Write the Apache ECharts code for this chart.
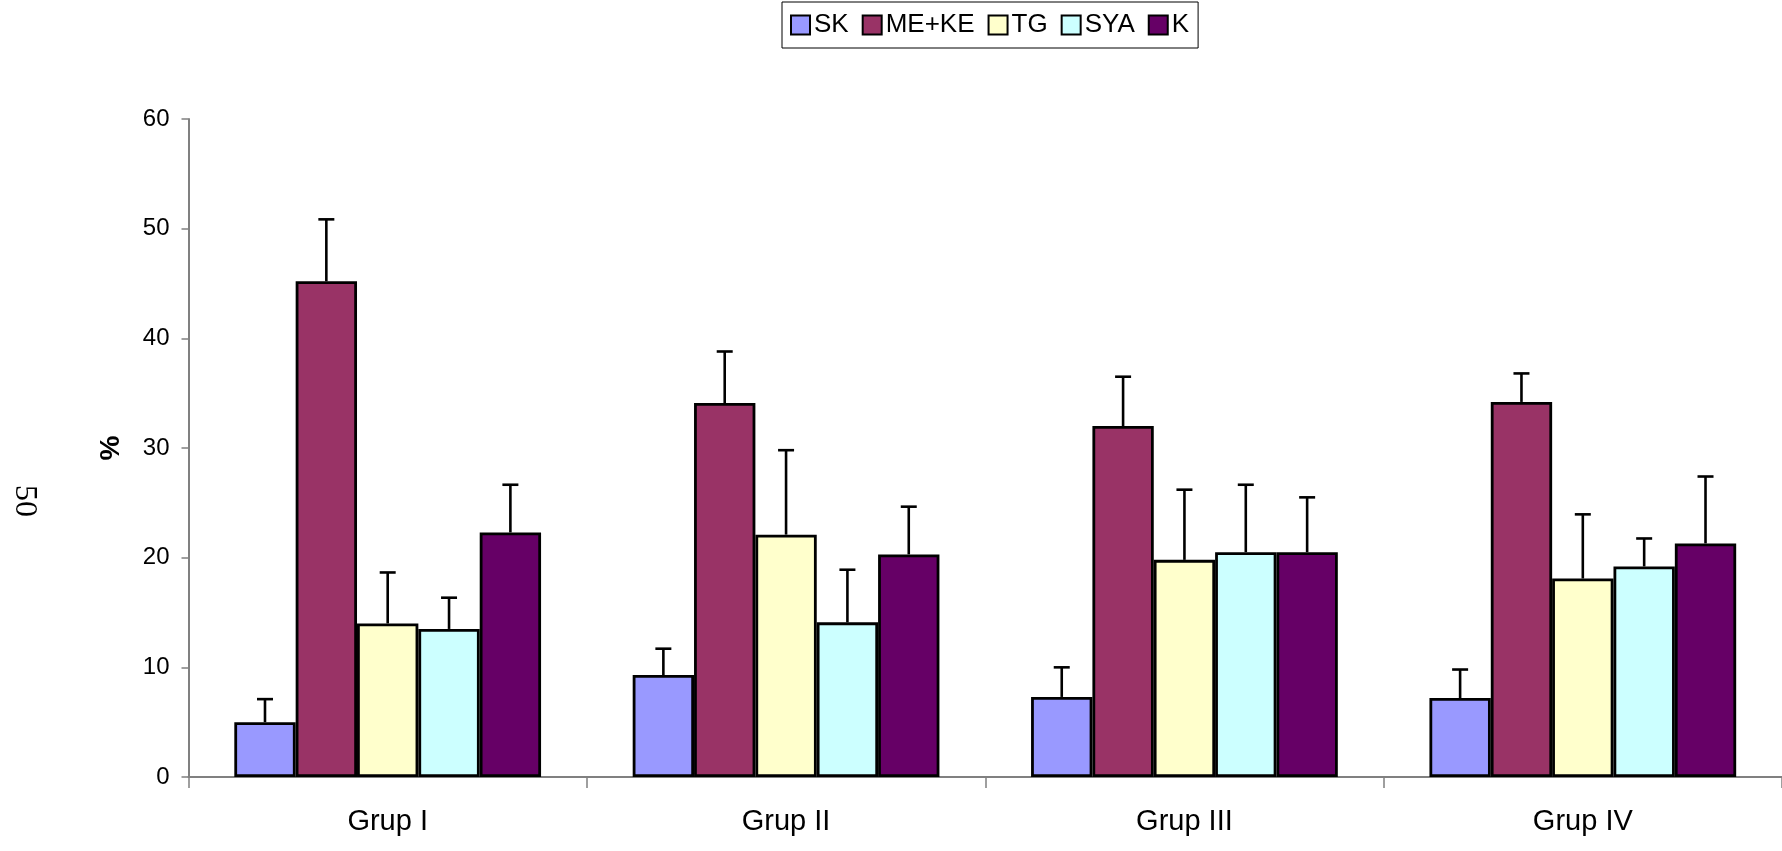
<!DOCTYPE html>
<html>
<head>
<meta charset="utf-8">
<script src="https://cdn.jsdelivr.net/npm/echarts@6/dist/echarts.min.js"></script>
<style>
  html, body { margin: 0; padding: 0; background: #fff; }
  #chart { width: 1782px; height: 851px; }
</style>
</head>
<body>
<div id="chart"></div>
<script>
// 组别
const categories = ['Grup I', 'Grup II', 'Grup III', 'Grup IV']
const seriesNames = ['SK', 'ME+KE', 'TG', 'SYA', 'K']
const colors = ['#9999FF', '#993366', '#FFFFCC', '#CCFFFF', '#660066']

// mean % per group
const skValues = [5.0, 9.3, 7.3, 7.2]
const mekeValues = [45.2, 34.1, 32.0, 34.2]
const tgValues = [14.0, 22.1, 19.8, 18.1]
const syaValues = [13.5, 14.1, 20.5, 19.2]
const kValues = [22.3, 20.3, 20.5, 21.3]

// upper error (SD)
const skErr = [2.1, 2.4, 2.7, 2.6]
const mekeErr = [5.65, 4.7, 4.5, 2.6]
const tgErr = [4.65, 7.7, 6.4, 5.85]
const syaErr = [2.85, 4.8, 6.15, 2.55]
const kErr = [4.35, 4.35, 5.0, 6.1]

const yTicks = [0, 10, 20, 30, 40, 50, 60]

const allValues = [skValues, mekeValues, tgValues, syaValues, kValues]
const allErrors = [skErr, mekeErr, tgErr, syaErr, kErr]

const chart = echarts.init(document.getElementById('chart'))
const font = "'Liberation Sans', Arial, sans-serif"
const gapRatio = 0.23

const barSeries = seriesNames.map((name, i) => ({
  name: name,
  type: 'bar',
  barGap: '0%',
  barCategoryGap: '23%',
  data: allValues[i],
  itemStyle: {
    color: colors[i],
    borderColor: '#000',
    borderWidth: 2.8
  },
  z: 2
}))

const errorSeries = seriesNames.map((name, i) => ({
  type: 'custom',
  name: name + '_err',
  z: 3,
  silent: true,
  encode: { x: 0, y: 1 },
  data: allValues[i].map((v, c) => [c, v, allErrors[i][c]]),
  renderItem: function (params, api) {
    const c = api.value(0)
    const v = api.value(1)
    const e = api.value(2)
    const bottom = api.coord([c, v])
    const top = api.coord([c, v + e])
    const band = api.size([1, 0])[0]
    const bw = band * (1 - gapRatio) / seriesNames.length
    const x = bottom[0] + (i - (seriesNames.length - 1) / 2) * bw
    const half = 8
    const style = { stroke: '#000', lineWidth: 2.6 }
    return {
      type: 'group',
      children: [
        { type: 'line', shape: { x1: x, y1: bottom[1], x2: x, y2: top[1] }, style: style },
        { type: 'line', shape: { x1: x - half, y1: top[1], x2: x + half, y2: top[1] }, style: style }
      ]
    }
  }
}))

const option = {
  backgroundColor: '#ffffff',
  animation: false,
  legend: {
    data: seriesNames,
    left: 782,
    top: 2,
    orient: 'horizontal',
    padding: [10, 9, 10, 8],
    itemGap: 13,
    itemWidth: 19,
    itemHeight: 19,
    borderColor: '#000',
    borderWidth: 1,
    icon: 'rect',
    itemStyle: { borderColor: '#000', borderWidth: 2 },
    textStyle: { fontFamily: font, fontSize: 26, color: '#000', padding: [0, 0, 0, -1] }
  },
  grid: {
    left: 188.5,
    right: 0,
    top: 119,
    bottom: 74,
    containLabel: false
  },
  xAxis: {
    type: 'category',
    data: categories,
    axisLine: { lineStyle: { color: '#808080', width: 2 } },
    axisTick: { show: true, length: 11, interval: 0, lineStyle: { color: '#808080', width: 1.5 } },
    axisLabel: { fontFamily: font, fontSize: 29, color: '#000', margin: 30 }
  },
  yAxis: {
    type: 'value',
    min: yTicks[0],
    max: yTicks[yTicks.length - 1],
    interval: 10,
    name: '%',
    nameLocation: 'middle',
    nameRotate: 90,
    nameGap: 63,
    nameTextStyle: { fontFamily: font, fontSize: 28, fontWeight: 'bold', color: '#000' },
    axisLine: { show: true, lineStyle: { color: '#808080', width: 2 } },
    axisTick: { show: true, length: 7, lineStyle: { color: '#808080', width: 1.5 } },
    splitLine: { show: false },
    axisLabel: { fontFamily: font, fontSize: 24, color: '#000', margin: 19 }
  },
  graphic: [{
    type: 'text',
    x: 24,
    y: 501,
    rotation: -Math.PI / 2,
    style: {
      text: '50',
      fontFamily: "'Liberation Serif', 'DejaVu Serif', serif",
      fontSize: 32,
      fill: '#000',
      textAlign: 'center',
      textVerticalAlign: 'middle'
    }
  }],
  series: barSeries.concat(errorSeries)
}

chart.setOption(option)
</script>
</body>
</html>
